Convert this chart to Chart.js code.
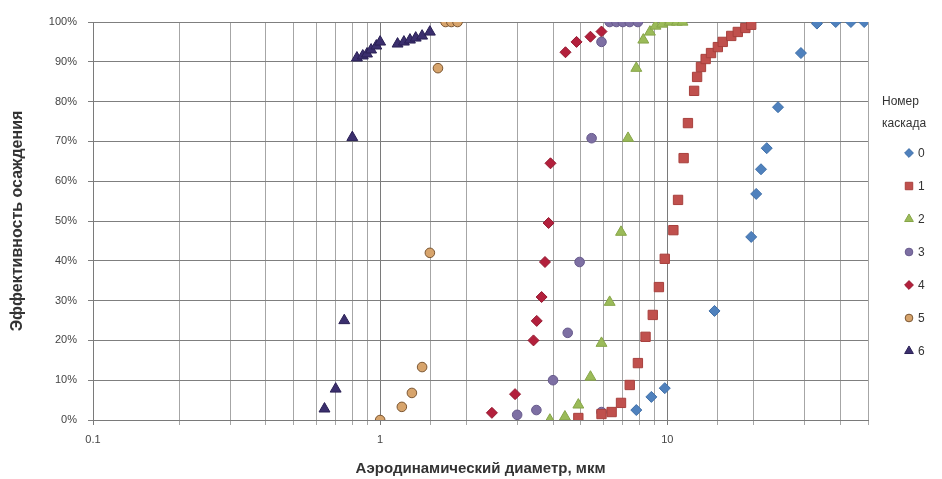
<!DOCTYPE html>
<html lang="ru">
<head>
    <meta charset="UTF-8">
    <title>Эффективность осаждения по каскадам</title>
    <script src="https://cdn.jsdelivr.net/npm/chart.js"></script>
    <style>
        html, body { margin: 0; padding: 0; background: #fff; }
        #wrap { width: 942px; height: 479px; }
    </style>
</head>
<body>
    <div id="wrap"><canvas id="chart"></canvas></div>

    <script>
        // Данные: аэродинамический диаметр (мкм) и эффективность осаждения (%)
        const cascades = ['0', '1', '2', '3', '4', '5', '6'];

        const diam0 = [7.8, 8.8, 9.8, 14.6, 19.6, 20.4, 21.2, 22.2, 24.3, 29.2, 33.2, 38.6, 43.6, 48.5];
        const eff0  = [2.5, 5.8, 8, 27.4, 46, 56.8, 63, 68.3, 78.6, 92.2, 99.6, 100, 100, 100];

        const diam1 = [4.9, 5.9, 6.4, 6.9, 7.4, 7.9, 8.4, 8.9, 9.35, 9.8, 10.5, 10.9, 11.4, 11.8, 12.4, 12.7,
                       13.1, 13.6, 14.2, 15.0, 15.6, 16.7, 17.6, 18.7, 19.6];
        const eff1  = [0.5, 1.5, 2, 4.3, 8.8, 14.3, 20.9, 26.4, 33.4, 40.5, 47.7, 55.3, 65.8, 74.6, 82.7, 86.2,
                       88.7, 90.7, 92.2, 93.7, 95, 96.5, 97.5, 98.5, 99.3];

        const diam2 = [3.9, 4.4, 4.9, 5.4, 5.9, 6.3, 6.9, 7.3, 7.8, 8.25, 8.7, 9.1, 9.6, 10.2, 10.8, 11.3];
        const eff2  = [0, 0.8, 3.8, 10.8, 19.3, 29.6, 47.2, 70.8, 88.4, 95.5, 97.5, 99, 99.5, 100, 100, 100];

        const diam3 = [3.0, 3.5, 4.0, 4.5, 4.95, 5.9, 5.45, 5.9, 6.3, 6.65, 7.0, 7.4, 7.9];
        const eff3  = [1.3, 2.5, 10, 21.9, 39.7, 2, 70.8, 95, 100, 100, 100, 100, 100];

        const diam4 = [2.45, 2.95, 3.42, 3.51, 3.65, 3.75, 3.86, 3.92, 4.42, 4.83, 5.4, 5.9];
        const eff4  = [1.8, 6.5, 20, 24.9, 30.9, 39.7, 49.5, 64.5, 92.4, 95, 96.3, 97.6];

        const diam5 = [1.0, 1.19, 1.29, 1.4, 1.49, 1.59, 1.69, 1.77, 1.86];
        const eff5  = [0, 3.3, 6.8, 13.3, 42, 88.4, 100, 100, 100];

        const diam6 = [0.64, 0.7, 0.75, 0.8, 0.83, 0.87, 0.9, 0.93, 0.97, 1.0,
                       1.15, 1.21, 1.27, 1.33, 1.4, 1.49];
        const eff6  = [2.8, 7.8, 25, 71, 91, 91.5, 92, 93, 94, 95,
                       94.5, 95, 95.5, 96, 96.5, 97.5];

        const yTicks = [0, 10, 20, 30, 40, 50, 60, 70, 80, 90, 100];

        const diams = [diam0, diam1, diam2, diam3, diam4, diam5, diam6];
        const effs  = [eff0, eff1, eff2, eff3, eff4, eff5, eff6];

        const styles = [
            { shape: 'rectRot',  fill: '#4F81BD', border: '#3F6FA8', r: 5.5 },
            { shape: 'rect',     fill: '#C0504D', border: '#A8403D', r: 6.6 },
            { shape: 'triangle', fill: '#9BBB59', border: '#86A548', r: 6.3 },
            { shape: 'circle',   fill: '#7D6FA3', border: '#675A8C', r: 4.8 },
            { shape: 'rectRot',  fill: '#B3203C', border: '#94182F', r: 5.5 },
            { shape: 'circle',   fill: '#D7A46C', border: '#7A5531', r: 4.8 },
            { shape: 'triangle', fill: '#3B2F6E', border: '#2A2055', r: 6.3 }
        ];

        const datasets = cascades.map((name, i) => ({
            label: name,
            data: diams[i].map((d, k) => ({ x: d, y: effs[i][k] })),
            pointStyle: styles[i].shape,
            pointRadius: styles[i].r,
            pointHoverRadius: styles[i].r,
            backgroundColor: styles[i].fill,
            borderColor: styles[i].border,
            pointBorderWidth: 1,
            showLine: false
        }));

        // Легенда справа, как в Excel (заголовок в две строки)
        const sideLegend = {
            id: 'sideLegend',
            afterDraw: chart => {
                const ctx = chart.ctx;
                ctx.save();
                ctx.fillStyle = '#333';
                ctx.font = '12px "Liberation Sans", Arial, sans-serif';
                ctx.textAlign = 'left';
                ctx.textBaseline = 'middle';
                ctx.fillText('Номер', 882, 102);
                ctx.fillText('каскада', 882, 124);
                chart.data.datasets.forEach((ds, i) => {
                    const y = 153 + i * 33;
                    ctx.fillStyle = ds.backgroundColor;
                    ctx.strokeStyle = ds.borderColor;
                    ctx.lineWidth = 1;
                    Chart.helpers.drawPoint(ctx, {
                        pointStyle: ds.pointStyle,
                        radius: ds.pointRadius * 0.8,
                        borderWidth: 1
                    }, 909, y);
                    ctx.fillStyle = '#333';
                    ctx.fillText(ds.label, 918, y + 1);
                });
                ctx.restore();
            }
        };

        new Chart(document.getElementById('chart'), {
            type: 'scatter',
            data: { datasets: datasets },
            options: {
                responsive: true,
                maintainAspectRatio: false,
                animation: false,
                layout: { padding: { top: 22, right: 74, bottom: 0, left: 0 } },
                plugins: {
                    legend: { display: false },
                    tooltip: { enabled: false }
                },
                scales: {
                    x: {
                        type: 'logarithmic',
                        min: 0.1,
                        max: 50,
                        afterFit: scale => { scale.height = 59; },
                        grid: {
                            color: ctx => (ctx.tick && ctx.tick.major) ? '#7a7a7a' : '#a6a6a6',
                            lineWidth: 1,
                            tickLength: 5
                        },
                        border: { color: '#7a7a7a' },
                        ticks: {
                            autoSkip: false,
                            maxRotation: 0,
                            padding: 8,
                            color: '#444',
                            font: { family: '"Liberation Sans", Arial, sans-serif', size: 11 },
                            callback: value => {
                                if (value === 0.1) return '0.1';
                                if (value === 1) return '1';
                                if (value === 10) return '10';
                                return '';
                            }
                        },
                        title: {
                            display: true,
                            text: 'Аэродинамический диаметр, мкм',
                            color: '#333',
                            font: { family: '"Liberation Sans", Arial, sans-serif', size: 15, weight: 'bold' },
                            padding: { top: 0, bottom: 1 }
                        }
                    },
                    y: {
                        min: 0,
                        max: 100,
                        afterFit: scale => { scale.width = 93; },
                        afterBuildTicks: scale => {
                            scale.ticks = yTicks.map(v => ({ value: v }));
                        },
                        grid: {
                            color: '#7f7f7f',
                            lineWidth: 1,
                            tickLength: 5
                        },
                        border: { color: '#7a7a7a' },
                        ticks: {
                            padding: 11,
                            color: '#444',
                            font: { family: '"Liberation Sans", Arial, sans-serif', size: 11 },
                            callback: value => value + '%'
                        },
                        title: {
                            display: true,
                            text: 'Эффективность осаждения',
                            color: '#333',
                            font: { family: '"Liberation Sans", Arial, sans-serif', size: 16, weight: 'bold' },
                            padding: { top: 8, bottom: 0 }
                        }
                    }
                }
            },
            plugins: [sideLegend]
        });
    </script>
</body>
</html>
